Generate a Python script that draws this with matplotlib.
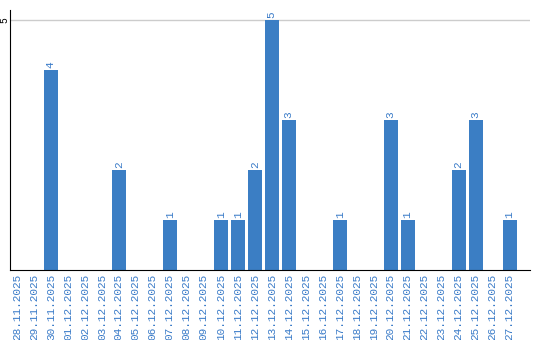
import matplotlib
matplotlib.use("Agg")
import matplotlib.pyplot as plt
import numpy as np

# daily counts 28.11.2025 - 27.12.2025
dates = ["28.11.2025", "29.11.2025", "30.11.2025", "01.12.2025", "02.12.2025",
         "03.12.2025", "04.12.2025", "05.12.2025", "06.12.2025", "07.12.2025",
         "08.12.2025", "09.12.2025", "10.12.2025", "11.12.2025", "12.12.2025",
         "13.12.2025", "14.12.2025", "15.12.2025", "16.12.2025", "17.12.2025",
         "18.12.2025", "19.12.2025", "20.12.2025", "21.12.2025", "22.12.2025",
         "23.12.2025", "24.12.2025", "25.12.2025", "26.12.2025", "27.12.2025"]
counts = [0, 0, 4, 0, 0, 0, 2, 0, 0, 1,
          0, 0, 1, 1, 2, 5, 3, 0, 0, 1,
          0, 0, 3, 1, 0, 0, 2, 3, 0, 1]

bar_col = "#3b7ec4"
txt_col = "#3a7bc8"
mono = ["Liberation Mono", "DejaVu Sans Mono"]

fig = plt.figure(figsize=(5.4, 3.4), dpi=100)
ax = fig.add_axes([0.0194, 0.206, 0.9621, 0.7646])

x = np.arange(len(dates))
ax.bar(x, counts, width=0.82, color=bar_col, zorder=2)

# value labels above the bars
for xi, c in zip(x, counts):
    if c > 0:
        ax.text(xi, c + 0.04, str(c), rotation=90, ha="center", va="bottom",
                color=txt_col, fontsize=8, family=mono)

ax.set_xlim(-0.38, 30.2)
ax.set_ylim(0, 5.2)
ax.set_xticks(x)
ax.set_xticklabels(dates, rotation=90, color=txt_col, fontsize=8, family=mono)
ax.set_yticks([5])
ax.set_yticklabels(["5"], rotation=90, va="center", fontsize=7, family=mono)
ax.tick_params(axis="x", length=0, pad=3)
ax.tick_params(axis="y", length=0, pad=0.5)
ax.yaxis.grid(True, color="#cccccc", linewidth=1, zorder=0)

for s in ["top", "right"]:
    ax.spines[s].set_visible(False)
ax.spines["left"].set_color("black")
ax.spines["bottom"].set_color("black")

fig.savefig("out.png", dpi=100)
